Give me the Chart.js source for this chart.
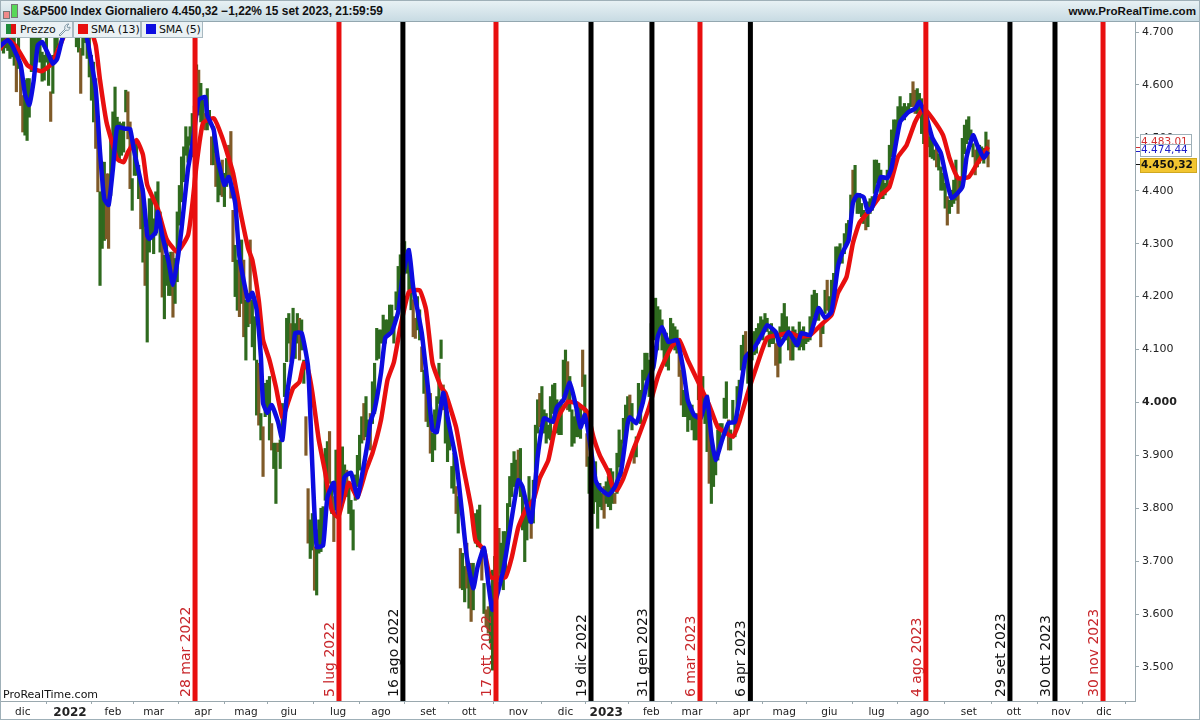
<!DOCTYPE html>
<html>
<head>
<meta charset="utf-8">
<title>S&amp;P500 Index Giornaliero</title>
<script src="https://cdn.jsdelivr.net/npm/chart.js@4"></script>
<style>
    html, body { margin: 0; padding: 0; background: #fff; overflow: hidden; }
    #page { position: relative; width: 1200px; height: 720px; font-family: "DejaVu Sans", sans-serif; color: #111; }
    #grafico { position: absolute; left: 0; top: 0; }
    #frame { position: absolute; left: 0; top: 0; width: 1198px; height: 718px; border: 1px solid #9fb0b8; pointer-events: none; }
    #header { position: absolute; left: 0; top: 0; width: 1200px; height: 21px; border-bottom: 1px solid #93a7b0;
        background: linear-gradient(#e9f2f5, #c8dbe3); font: bold 12px "Liberation Sans", sans-serif; line-height: 22px; white-space: nowrap; }
    #titolo { position: absolute; left: 23px; top: 0; font-size: 11.9px; }
    #sito { position: absolute; right: 4px; top: 0; font-size: 11.6px; }
    .candela { position: absolute; border: 1px solid #777; }
    .chip { position: absolute; top: 22px; height: 16px; box-sizing: border-box; background: #eaf1f4; border: 1px solid #a8b9c1; border-top: 0;
        font: 11px "DejaVu Sans", sans-serif; line-height: 15px; white-space: nowrap; }
    .chip i { position: absolute; top: 2px; width: 10px; height: 10px; }
    .chip span { position: absolute; top: 0; }
    #watermark { position: absolute; left: 3px; top: 688px; font: 11px "DejaVu Sans", sans-serif; }
</style>
</head>
<body>
<div id="page">
    <canvas id="grafico" width="1200" height="720"></canvas>
    <div id="header">
        <div class="candela" style="left:3px;top:11px;width:5px;height:6px;background:#f08a8a"></div>
        <div class="candela" style="left:11px;top:4px;width:5px;height:12px;background:#58d858"></div>
        <div id="titolo">S&amp;P500 Index Giornaliero 4.450,32 −1,22% 15 set 2023, 21:59:59</div>
        <div id="sito">www.ProRealTime.com</div>
    </div>
    <div class="chip" style="left:0;width:73px">
        <i style="left:5px;width:5px;background:#1f8a3a"></i><i style="left:10px;width:5px;background:#e01010"></i>
        <span style="left:19px">Prezzo</span>
        <svg style="position:absolute;left:57px;top:1px" width="13" height="13" viewBox="0 0 13 13"><path d="M1 12 L7 6 C6 3 8 1 11 1 L9 3 L10 5 L12 4 C12 7 10 8 8 7 L2 13 Z" fill="none" stroke="#7f98a5"/></svg>
    </div>
    <div class="chip" style="left:73px;width:68px"><i style="left:4px;background:#e80f0f"></i><span style="left:17px;letter-spacing:-0.2px">SMA (13)</span></div>
    <div class="chip" style="left:141px;width:62px"><i style="left:4px;background:#0c0ce0"></i><span style="left:17px;letter-spacing:-0.2px">SMA (5)</span></div>
    <div id="watermark">ProRealTime.com</div>
    <div id="frame"></div>
</div>

<script>
    // Barre giornaliere: il numero e' il giorno di borsa contato dal 3 gen 2022
    const firstBar = -32;
    const barLows = [
        4666,4660,4670,4665,4650,4653,4637,4587,4631,4561,
        4511,4505,4495,4539,4625,4637,4662,4675,4643,4607,
        4609,4643,4599,4531,4584,4656,4670,4690,4700,4720,
        4730,4730,4740,4730,4700,4672,4662,4584,4656,4680,
        4650,4615,4571,4530,4480,4398,4221,4291,4306,4309,
        4291,4391,4467,4511,4467,4454,4467,4473,4549,4498,
        4404,4363,4429,4429,4385,4328,4265,4221,4114,4284,
        4309,4281,4316,4341,4284,4199,4158,4221,4202,4202,
        4161,4187,4228,4335,4379,4417,4467,4454,4486,4464,
        4470,4552,4543,4530,4527,4515,4515,4527,4449,4449,
        4408,4379,4392,4389,4370,4408,4420,4386,4266,4200,
        4174,4162,4187,4124,4080,4143,4149,4105,4080,3976,
        3957,3929,3860,3973,3986,3929,3910,3875,3809,3907,
        3875,3941,4011,4077,4112,4077,4118,4083,4112,4080,
        4099,4036,3900,3734,3705,3721,3645,3636,3715,3718,
        3727,3815,3860,3847,3790,3737,3797,3784,3803,3834,
        3822,3822,3790,3759,3721,3815,3841,3872,3923,3929,
        3935,3923,3910,3960,3979,4080,4083,4112,4112,4112,
        4130,4134,4131,4112,4175,4181,4219,4250,4254,4244,
        4213,4175,4124,4121,4137,4118,4058,4017,3964,3954,
        3904,3888,3910,3942,3998,4083,3986,3923,3888,3910,
        3838,3828,3790,3753,3649,3646,3623,3649,3611,3586,
        3608,3734,3727,3727,3664,3601,3576,3564,3545,3494,
        3507,3633,3664,3677,3646,3671,3746,3803,3822,3841,
        3835,3853,3822,3759,3699,3740,3772,3743,3772,3847,
        3942,3954,3964,3942,3923,3932,3929,3979,3973,3942,
        3939,3939,4011,4024,3986,3983,3917,3923,3935,3935,
        3932,4030,3960,3879,3828,3800,3790,3812,3762,3803,
        3797,3781,3809,3803,3797,3809,3809,3828,3878,3860,
        3923,3935,3960,3973,3948,3885,3897,3973,3960,3998,
        4042,4036,4011,4086,4130,4118,4099,4130,4099,4074,
        4068,4061,4108,4105,4099,4093,4049,3995,3973,3973,
        3945,3967,3948,3929,3929,4005,3960,3979,3960,3907,
        3847,3809,3841,3863,3891,3916,3948,3970,3970,3910,
        3910,3960,3935,3960,3998,4061,4080,4086,4036,4040,
        4080,4090,4093,4112,4124,4118,4137,4134,4105,4111,
        4111,4070,4048,4074,4124,4130,4118,4099,4080,4080,
        4105,4105,4099,4105,4099,4111,4115,4118,4137,4162,
        4168,4155,4105,4130,4168,4174,4168,4174,4187,4237,
        4263,4266,4263,4281,4300,4307,4351,4382,4389,4357,
        4357,4351,4338,4326,4332,4357,4363,4395,4414,4407,
        4385,4385,4392,4401,4426,4464,4477,4502,4521,4527,
        4540,4534,4546,4546,4559,4559,4546,4546,4552,4508,
        4489,4502,4483,4464,4461,4458,4445,4439,4401,4401,
        4367,4335,4357,4370,4376,4382,4357,4401,4426,4470,
        4489,4496,4483,4464,4430,4445,4452,4458,4452,4470,4445
    ];
    const barHighs = [
        4700,4705,4719,4730,4720,4720,4700,4656,4700,4631,
        4580,4609,4612,4612,4688,4730,4730,4740,4719,4662,
        4656,4710,4656,4587,4656,4720,4740,4750,4770,4790,
        4800,4800,4810,4800,4790,4750,4740,4669,4730,4760,
        4730,4719,4656,4643,4612,4511,4398,4454,4454,4432,
        4432,4505,4549,4596,4539,4530,4527,4530,4590,4587,
        4530,4423,4486,4492,4448,4417,4404,4328,4316,4385,
        4385,4347,4398,4417,4360,4309,4278,4309,4278,4284,
        4284,4272,4360,4410,4464,4483,4521,4502,4521,4546,
        4560,4638,4628,4603,4571,4546,4593,4552,4502,4521,
        4471,4458,4452,4458,4433,4461,4486,4512,4363,4297,
        4269,4269,4307,4269,4193,4206,4307,4193,4162,4080,
        4074,3979,3954,4036,4042,4049,3960,3923,3923,3923,
        3929,3998,4074,4159,4168,4149,4178,4149,4168,4159,
        4156,4080,3973,3837,3778,3790,3727,3759,3778,3800,
        3803,3913,3926,3945,3850,3822,3910,3910,3891,3916,
        3882,3872,3847,3815,3797,3863,3900,3938,3973,3998,
        4011,3967,3979,4039,4074,4140,4137,4137,4165,4156,
        4156,4184,4184,4162,4209,4257,4279,4301,4304,4288,
        4285,4231,4194,4159,4200,4175,4105,4061,4042,4017,
        4017,3942,3986,4011,4074,4118,4033,3992,3967,3954,
        3879,3904,3841,3822,3724,3715,3690,3734,3677,3696,
        3696,3790,3797,3806,3721,3658,3608,3614,3620,3683,
        3709,3709,3762,3734,3756,3756,3809,3860,3885,3907,
        3891,3910,3913,3841,3790,3813,3860,3816,3853,3957,
        4005,4017,4030,3986,3979,3957,4011,4033,4036,4005,
        3998,4005,4080,4099,4077,4049,3986,3973,3986,3992,
        3992,4099,4052,3941,3897,3880,3860,3888,3847,3847,
        3828,3841,3850,3860,3875,3869,3828,3904,3948,3929,
        3970,3995,4011,4014,3998,3916,3935,4036,4023,4061,
        4093,4093,4080,4149,4194,4197,4181,4175,4156,4137,
        4131,4118,4159,4149,4143,4137,4118,4061,4023,4011,
        3998,3992,3995,3973,3979,4049,4042,4049,4011,4014,
        3960,3929,3910,3897,3948,3960,3960,4008,4039,3967,
        3948,4004,3964,4030,4042,4108,4127,4134,4093,4110,
        4130,4134,4140,4149,4162,4156,4168,4159,4134,4149,
        4137,4111,4118,4143,4168,4187,4162,4143,4124,4143,
        4137,4130,4152,4137,4143,4130,4130,4162,4203,4212,
        4206,4181,4143,4149,4212,4231,4200,4231,4244,4294,
        4294,4300,4281,4319,4338,4344,4392,4439,4448,4395,
        4395,4376,4363,4357,4379,4385,4389,4458,4458,4452,
        4439,4426,4414,4439,4486,4515,4534,4534,4559,4578,
        4559,4565,4559,4565,4584,4606,4590,4593,4584,4574,
        4546,4552,4521,4502,4496,4477,4486,4470,4445,4433,
        4414,4389,4382,4401,4420,4458,4420,4420,4499,4524,
        4534,4540,4515,4489,4477,4489,4486,4483,4480,4511,4496
    ];
    // Giorni chiusi in ribasso (le barre marroni)
    const downBars = [-25,-23,-22,-9,5,12,13,17,18,27,28,33,35,43,48,60,63,66,68,71,74,75,76,79,81,84,
        88,90,94,97,103,107,110,111,114,121,123,129,137,140,160,161,164,166,168,174,180,182,185,187,192,
        194,195,199,200,209,215,219,232,239,241,249,254,261,263,284,285,298,307,315,329,330,336,350,353,
        365,371,393,394,400,404,409,414,422,428];

    const sma5Bars = [-33,-29,-27,-23,-21,-19,-17,-15,-13,-10,-8,-6,-4,0,4,8,12,14,16,18,20,22,26,28,30,34,36,37,40,41,43,46,48,50,52,55,57,
        60,63,64,67,69,72,74,77,79,83,85,87,89,90,92,94,97,99,101,104,105,108,111,113,115,118,120,123,125,128,131,134,136,139,140,142,145,147,150,153,155,158,
        160,164,167,169,171,174,176,180,183,185,188,190,193,195,197,202,206,209,211,215,218,221,225,227,230,233,236,238,240,242,245,247,251,254,257,260,261,264,267,269,
        272,274,276,279,283,286,288,291,294,297,299,301,304,307,310,312,315,319,323,325,329,331,335,339,341,345,349,352,355,358,360,363,365,367,370,372,374,378,381,383,
        387,391,394,396,399,402,406,408,411,416,418,421,423,426,428];
    const sma5Values = [4672,4685,4675,4638,4583,4562,4606,4675,4681,4657,4640,4649,4681,4732,4745,4687,4592,4473,4384,4373,4441,4520,4517,4517,4473,4398,4316,4309,4322,4360,4316,4265,4222,4265,4328,4441,4486,
        4572,4577,4543,4515,4458,4411,4426,4377,4275,4193,4207,4175,4086,3999,3980,3995,3963,3929,4010,4093,4131,4131,4067,3878,3727,3730,3821,3848,3791,3859,3867,3821,3859,3929,3963,3986,4056,4122,4133,4171,4237,4288,
        4218,4131,4023,3948,3944,4018,3972,3891,3783,3708,3649,3689,3725,3659,3608,3683,3783,3853,3840,3774,3897,3970,3963,3991,4004,4037,3991,3953,3976,3935,3853,3838,3825,3840,3872,3961,3972,3961,3999,4037,
        4067,4124,4142,4114,4118,4061,4004,3976,3970,4010,3935,3891,3929,3961,3963,4004,4086,4103,4131,4146,4133,4108,4133,4108,4131,4127,4178,4160,4171,4256,4282,4307,4377,4392,4388,4360,4369,4426,4424,4443,
        4530,4549,4555,4568,4543,4500,4471,4434,4386,4407,4464,4505,4486,4462,4474];

    const sma13Bars = [-33,-29,-25,-20,-17,-13,-9,-7,-4,0,5,9,12,14,17,20,22,25,27,31,34,36,41,45,50,55,57,59,62,67,71,76,79,83,85,88,90,93,96,99,102,104,107,109,111,113,116,119,122,125,127,130,134,138,141,145,148,151,154,158,
        163,166,169,173,175,180,183,187,189,193,196,203,206,209,213,216,219,223,227,232,236,241,244,247,251,253,255,258,262,265,270,274,278,281,284,288,294,298,302,306,309,312,316,320,325,331,336,340,345,351,355,358,362,365,368,373,378,382,386,390,394,398,402,407,410,414,419,423,428];
    const sma13Values = [4666,4687,4672,4638,4630,4626,4638,4653,4681,4719,4732,4713,4675,4609,4530,4486,4460,4454,4473,4496,4468,4411,4365,4309,4284,4316,4373,4449,4528,4537,4500,4434,4369,4292,4269,4193,4118,4080,4029,3972,4004,4027,4039,4074,4061,4018,3929,3867,3797,3783,3810,3848,3821,3872,3904,3967,4042,4076,4142,4209,
        4212,4175,4074,4029,4018,3953,3885,3802,3740,3721,3670,3670,3708,3764,3802,3815,3857,3891,3967,4001,3999,3982,3935,3900,3868,3840,3834,3857,3904,3935,3991,4048,4086,4108,4118,4080,4029,3995,3953,3942,3935,3963,4018,4067,4122,4128,4131,4124,4127,4150,4165,4207,4237,4301,4339,4364,4392,4407,4464,4486,4530,4556,4537,4505,4462,4424,4426,4452,4483];

    // Linee verticali con la loro data
    const redEventBars = [58.3, 125.4, 198.6, 293.7, 399, 481.6];
    const redEventLabels = ['28 mar 2022', '5 lug 2022', '17 ott 2022', '6 mar 2023', '4 ago 2023', '30 nov 2023'];
    const blackEventBars = [155.2, 242.9, 271.3, 317.2, 438.2, 459.2];
    const blackEventLabels = ['16 ago 2022', '19 dic 2022', '31 gen 2023', '6 apr 2023', '29 set 2023', '30 ott 2023'];

    const monthBars = [-22, 0, 20, 39, 62, 82, 102, 125, 145, 167, 186, 209, 231, 250, 271, 290, 313, 333, 354, 376, 396, 419, 440, 462, 482];
    const monthLabels = ['dic', '2022', 'feb', 'mar', 'apr', 'mag', 'giu', 'lug', 'ago', 'set', 'ott', 'nov', 'dic', '2023', 'feb', 'mar', 'apr', 'mag', 'giu', 'lug', 'ago', 'set', 'ott', 'nov', 'dic'];
    const priceTicks = [3500, 3600, 3700, 3800, 3900, 4000, 4100, 4200, 4300, 4400, 4500, 4600, 4700];

    const lastSma13 = 4483.01;
    const lastSma5 = 4474.44;
    const lastPrice = 4450.32;

    const yMin = 3435.7;
    const yMax = 4718.9;

    function formatPrezzo(v) {
        return v.toFixed(2).replace('.', ',').replace(/^(\d)(\d{3})/, '$1.$2');
    }

    function verticale(bar, colore) {
        return {
            type: 'line',
            data: [{ x: bar, y: yMin }, { x: bar, y: yMax }],
            borderColor: colore,
            borderWidth: 5,
            pointRadius: 0,
            order: 0
        };
    }

    // Date ruotate accanto alle linee verticali
    const etichetteEventi = {
        id: 'etichetteEventi',
        afterDatasetsDraw(chart) {
            const ctx = chart.ctx;
            const x = chart.scales.x;
            const scrivi = (bars, labels, colore) => {
                bars.forEach((bar, i) => {
                    ctx.save();
                    ctx.translate(x.getPixelForValue(bar) - 9, chart.chartArea.bottom - 4);
                    ctx.rotate(-Math.PI / 2);
                    ctx.font = '14px "DejaVu Sans"';
                    ctx.fillStyle = colore;
                    ctx.textAlign = 'left';
                    ctx.textBaseline = 'middle';
                    ctx.fillText(labels[i], 0, 0);
                    ctx.restore();
                });
            };
            scrivi(redEventBars, redEventLabels, '#c8262a');
            scrivi(blackEventBars, blackEventLabels, '#111');
        }
    };

    // Etichette del prezzo sull'asse destro
    const etichettePrezzo = {
        id: 'etichettePrezzo',
        afterDraw(chart) {
            const ctx = chart.ctx;
            const y = chart.scales.y;
            const xa = chart.chartArea.right;
            const tag = (valore, top, h, w, fondo, bordo, testo, font) => {
                ctx.fillStyle = testo;
                ctx.fillRect(xa + 1, Math.round(y.getPixelForValue(valore)), 5, 1);
                ctx.fillStyle = fondo;
                ctx.fillRect(xa + 5, top, w, h);
                ctx.strokeStyle = bordo;
                ctx.strokeRect(xa + 5.5, top + 0.5, w - 1, h - 1);
                ctx.save();
                ctx.beginPath();
                ctx.rect(xa + 5, top, w, h);
                ctx.clip();
                ctx.fillStyle = testo;
                ctx.font = font;
                ctx.textBaseline = 'middle';
                ctx.textAlign = 'left';
                ctx.fillText(formatPrezzo(valore), xa + 6, top + h / 2 + (top < 140 ? 2 : 0));
                ctx.restore();
            };
            tag(lastSma13, 134, 12, 52, '#fff', '#9fb0b8', '#d23030', '10.5px "DejaVu Sans"');
            tag(lastSma5, 144, 13, 52, '#fff', '#9fb0b8', '#2020c8', '10.5px "DejaVu Sans"');
            tag(lastPrice, 158, 15, 57, '#f2c530', '#d0a820', '#111', 'bold 10.5px "DejaVu Sans"');
        }
    };

    const barre = barLows.map((low, i) => ({ x: firstBar + i, y: [low, barHighs[i]] }));
    const coloriBarre = barLows.map((low, i) => downBars.includes(firstBar + i) ? '#7f5a28' : '#2e6a1e');

    new Chart(document.getElementById('grafico'), {
        type: 'bar',
        data: {
            datasets: [
                ...redEventBars.map(b => verticale(b, '#e80f0f')),
                ...blackEventBars.map(b => verticale(b, '#000')),
                {
                    type: 'line',
                    label: 'SMA (5)',
                    data: sma5Bars.map((b, i) => ({ x: b, y: sma5Values[i] })),
                    borderColor: '#0c0ce0',
                    borderWidth: 4.5,
                    pointRadius: 0,
                    tension: 0.15,
                    order: 1
                },
                {
                    type: 'line',
                    label: 'SMA (13)',
                    data: sma13Bars.map((b, i) => ({ x: b, y: sma13Values[i] })),
                    borderColor: '#e80f0f',
                    borderWidth: 4.5,
                    pointRadius: 0,
                    tension: 0.15,
                    order: 2
                },
                {
                    label: 'Prezzo',
                    data: barre,
                    backgroundColor: coloriBarre,
                    barThickness: 2.5,
                    order: 3
                }
            ]
        },
        options: {
            responsive: false,
            animation: false,
            layout: { autoPadding: false, padding: { top: 22 } },
            plugins: { legend: { display: false }, title: { display: false }, tooltip: { enabled: false } },
            scales: {
                x: {
                    type: 'linear',
                    offset: false,
                    min: -32.63,
                    max: 496.5,
                    afterBuildTicks: scale => { scale.ticks = monthBars.map(v => ({ value: v })); },
                    afterFit: scale => { scale.height = 19; },
                    border: { color: '#9aa8ae' },
                    grid: { drawOnChartArea: false, drawTicks: true, tickLength: 3, color: '#9aa8ae' },
                    ticks: {
                        autoSkip: false,
                        maxRotation: 0,
                        padding: 2,
                        color: '#222',
                        font: c => monthLabels[c.index] && monthLabels[c.index].startsWith('20')
                            ? { family: 'DejaVu Sans', size: 12, weight: 'bold' }
                            : { family: 'DejaVu Sans', size: 10.5 },
                        callback: (v, i) => monthLabels[i]
                    }
                },
                y: {
                    position: 'right',
                    min: yMin,
                    max: yMax,
                    afterBuildTicks: scale => { scale.ticks = priceTicks.map(v => ({ value: v })); },
                    afterFit: scale => { scale.width = 65; },
                    border: { color: '#9aa8ae' },
                    grid: { drawOnChartArea: false, drawTicks: true, tickLength: 4, color: '#9aa8ae' },
                    ticks: {
                        padding: 3,
                        color: '#222',
                        font: c => priceTicks[c.index] === 4000
                            ? { family: 'DejaVu Sans', size: 11, weight: 'bold' }
                            : { family: 'DejaVu Sans', size: 11 },
                        callback: v => String(v).replace(/^(\d)(\d{3})$/, '$1.$2')
                    }
                }
            }
        },
        plugins: [etichetteEventi, etichettePrezzo]
    });
</script>
</body>
</html>
